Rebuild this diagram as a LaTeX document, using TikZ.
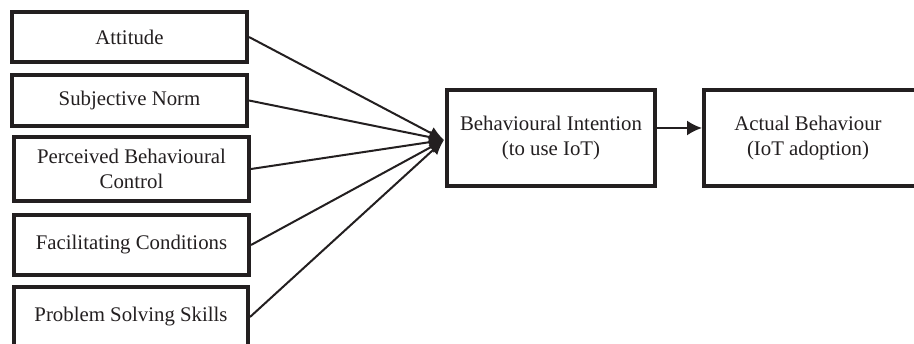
\documentclass[tikz,border=0pt]{standalone}
\usepackage{fontspec}
\setmainfont{Liberation Serif}
\usetikzlibrary{arrows.meta}
\definecolor{ink}{RGB}{35,31,32}
\begin{document}
\begin{tikzpicture}[x=1pt,y=-1pt,
  box/.style={draw=ink, line width=4pt, minimum width=235pt, align=center, inner sep=0pt,
    font=\fontsize{20.8}{25}\selectfont, text=ink},
  link/.style={draw=ink, line width=2pt, -{Latex[length=15pt,width=13pt]}}]
\clip (0,0) rectangle (914,344);
\fill[white] (0,0) rectangle (914,344);
\node[box, minimum height=50pt] (att) at (129.5,37) {Attitude};
\node[box, minimum height=51pt] (sn) at (129.5,100.5) {Subjective Norm};
\node[box, minimum height=64pt] (pbc) at (131.5,169) {Perceived Behavioural\\Control};
\node[box, minimum height=60pt] (fc) at (131.5,245) {Facilitating Conditions};
\node[box, minimum height=60pt, minimum width=234pt] (pss) at (131,317) {Problem Solving Skills};
\node[box, minimum width=208pt, minimum height=96pt] (bi) at (551,138) {Behavioural Intention\\(to use IoT)};
\node[box, minimum width=216pt, minimum height=96pt] (ab) at (812,138) {\hspace*{-8pt}Actual Behaviour\\\hspace*{-8pt}(IoT adoption)};
\coordinate (conv) at (444,140);
\draw[link] (att.east) -- (conv);
\draw[link] (sn.east) -- (conv);
\draw[link] (pbc.east) -- (conv);
\draw[link] (fc.east) -- (conv);
\draw[link] (pss.east) -- (conv);
\draw[draw=ink, line width=2pt, -{Latex[length=15pt,width=15pt]}] (bi.east |- 0,128) -- (ab.west |- 0,128);
\end{tikzpicture}
\end{document}
